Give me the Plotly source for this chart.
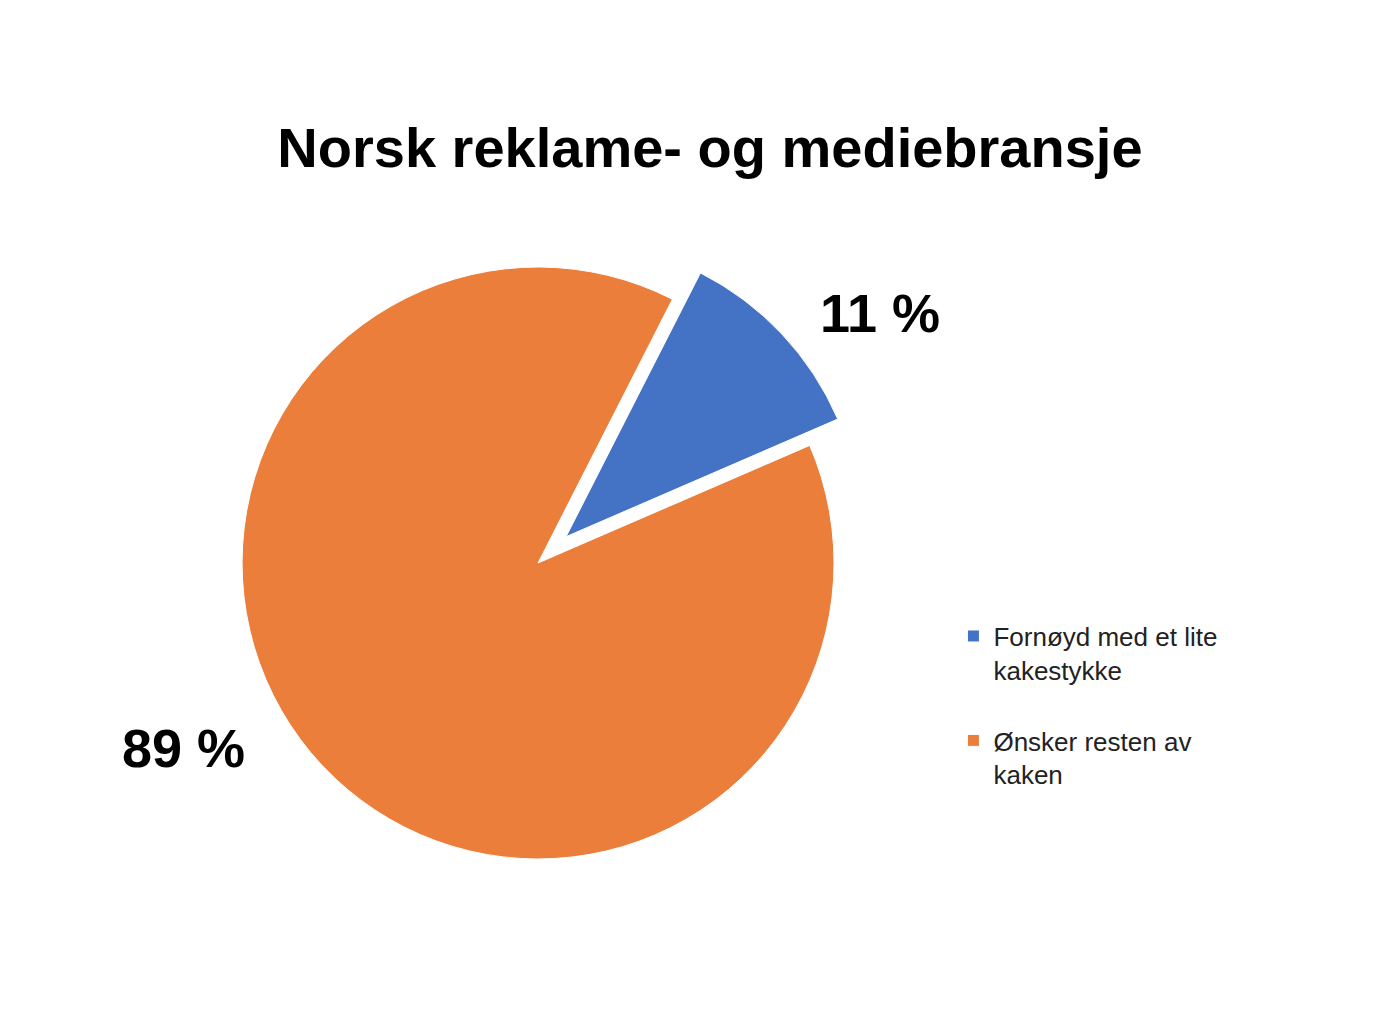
import plotly.graph_objects as go

# chart data
slice_labels = ["Fornøyd med et lite<br>kakestykke", "Ønsker resten av<br>kaken"]
slice_values = [11, 89]
slice_colors = ["#4472C4", "#EA7E3A"]
slice_pull = [0.13, 0]

title_text = "Norsk reklame- og mediebransje"
font_family = "Liberation Sans, Arial, sans-serif"

# extra blank line in legend entries to get the wider spacing between items
legend_labels = [l + "<br> " for l in slice_labels]
plain_names = [l.replace("<br>", " ") for l in slice_labels]

fig = go.Figure()
fig.add_trace(go.Pie(
    labels=legend_labels,
    values=slice_values,
    customdata=plain_names,
    marker=dict(colors=slice_colors, line=dict(color="white", width=1)),
    pull=slice_pull,
    sort=False,
    direction="clockwise",
    rotation=27,
    textinfo="none",
    domain=dict(x=[0.1397, 0.6175], y=[0.1202, 0.7819]),
    hovertemplate="%{customdata}: %{value} %<extra></extra>",
))

# percentage labels placed outside the slices
label_pos = [(0.6229, 0.6983), (0.1250, 0.2680)]
for v, (px, py) in zip(slice_values, label_pos):
    fig.add_annotation(
        text="%d %%" % v, x=px, y=py, xref="paper", yref="paper",
        showarrow=False, xanchor="center", yanchor="middle",
        font=dict(family=font_family, size=54, color="black", weight="bold"),
    )

fig.update_layout(
    width=1400, height=1011,
    margin=dict(l=0, r=0, t=0, b=0),
    paper_bgcolor="white", plot_bgcolor="white",
    title=dict(text=title_text, x=0.5014, xanchor="center", y=0.8625, yanchor="middle",
               font=dict(family=font_family, size=56, color="black", weight="bold")),
    legend=dict(x=0.6753, xanchor="left", y=0.402, yanchor="top", valign="top",
                font=dict(family=font_family, size=26, color="#222222"),
                bgcolor="rgba(0,0,0,0)"),
)

fig.write_html("out.html")
